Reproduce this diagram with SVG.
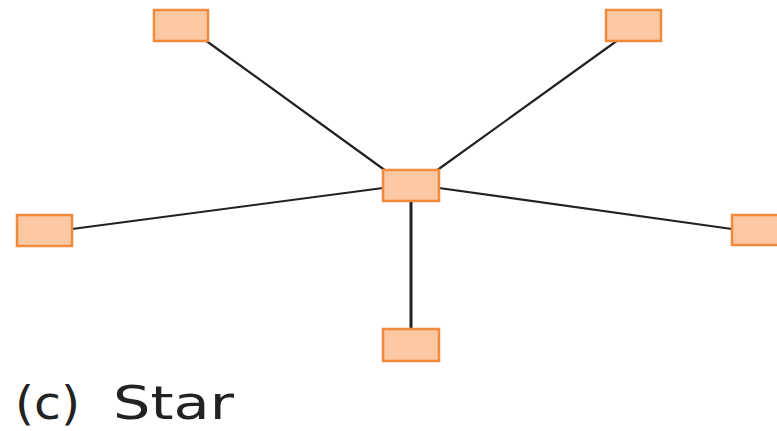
<svg xmlns="http://www.w3.org/2000/svg" width="777" height="431" viewBox="0 0 777 431">
  <style>
    .node rect { fill: #fcc7a3; stroke: #f08a3c; stroke-width: 2.5; }
    .links line { stroke: #222; stroke-width: 2.2; stroke-linecap: round; }
    .caption { font-family: "DejaVu Sans", "Liberation Sans", sans-serif; font-size: 46px; fill: #222; }
  </style>
  <rect width="777" height="431" fill="#ffffff"/>
  <g class="links">
    <line x1="205" y1="40" x2="386" y2="171"/>
    <line x1="618" y1="40" x2="436" y2="171"/>
    <line x1="72" y1="229" x2="383" y2="188"/>
    <line x1="732" y1="229" x2="439" y2="188"/>
    <line x1="411" y1="201" x2="411" y2="328" style="stroke-width:3"/>
  </g>
  <g id="hub" class="node"><rect x="383" y="170" width="56" height="31"/></g>
  <g id="n-top-left" class="node"><rect x="154" y="10" width="54" height="31"/></g>
  <g id="n-top-right" class="node"><rect x="606" y="10" width="55" height="31"/></g>
  <g id="n-left" class="node"><rect x="17" y="215" width="55" height="31"/></g>
  <g id="n-right" class="node"><rect x="732" y="215" width="55" height="30"/></g>
  <g id="n-bottom" class="node"><rect x="383" y="329" width="56" height="32"/></g>
  <text class="caption" y="419"><tspan x="15" textLength="65" lengthAdjust="spacingAndGlyphs">(c)</tspan><tspan x="113" textLength="121" lengthAdjust="spacingAndGlyphs">Star</tspan></text>
</svg>
